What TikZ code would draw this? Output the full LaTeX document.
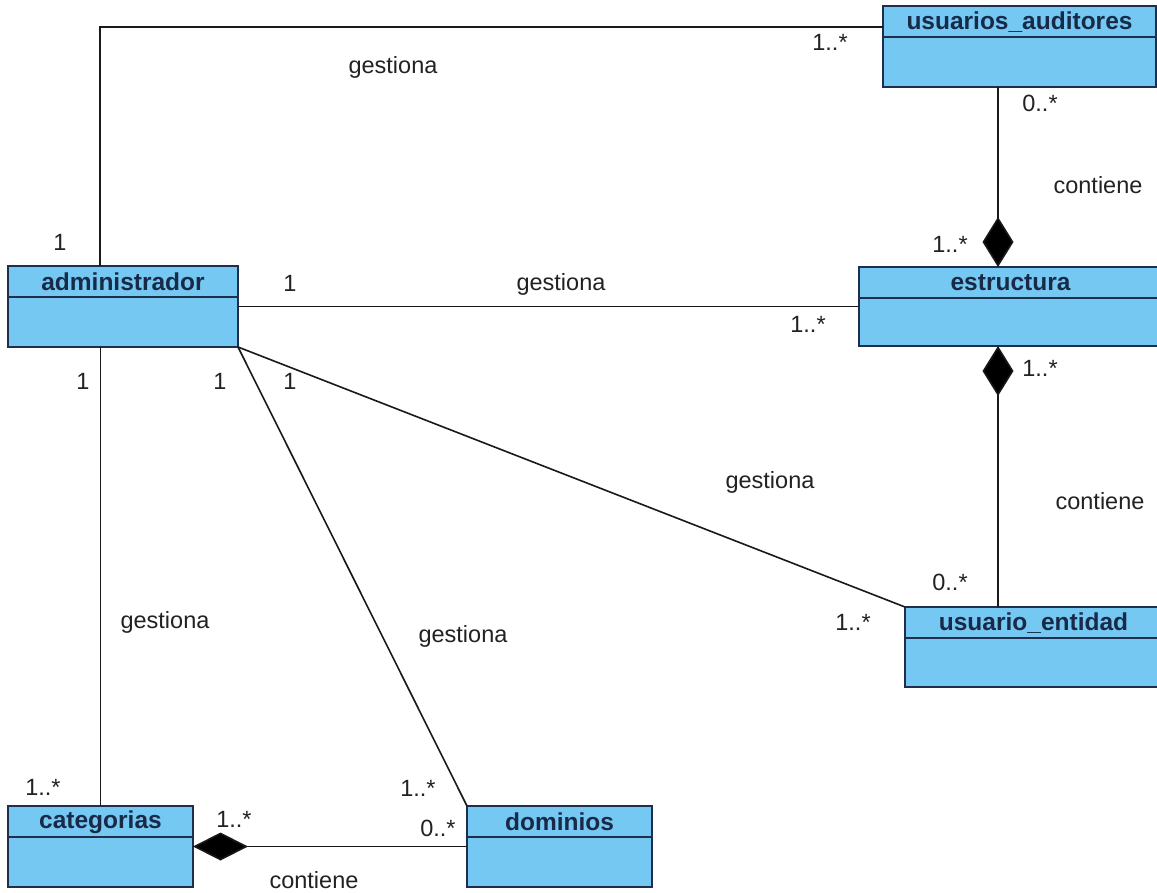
\documentclass[tikz,border=0pt]{standalone}
\usepackage{fontspec}
\setmainfont{Liberation Sans}
\usetikzlibrary{arrows.meta}

\definecolor{classfill}{RGB}{116,200,242}
\definecolor{classedge}{RGB}{30,46,76}
\definecolor{classtext}{RGB}{24,42,72}
\definecolor{labeltext}{RGB}{34,34,34}

\tikzset{
  classbox/.style={draw=classedge, fill=classfill, line width=2pt,
    rectangle, inner sep=0pt, outer sep=0pt, anchor=north west},
  classrule/.style={draw=classedge, line width=2pt},
  classtitle/.style={font=\fontsize{24.5}{27}\selectfont\bfseries, text=classtext, inner sep=0pt},
  assoc/.style={draw=black!90, line width=1.6pt},
  comp/.style={assoc, {Diamond[length=50pt,width=31pt,fill=black]}-},
  lbl/.style={font=\fontsize{23.5}{26}\selectfont, text=labeltext, inner sep=0pt},
}

% class box: name, x1, y1, x2, y2, title
\newcommand\umlclass[6]{%
  \node[classbox, minimum width={(#4-#2)*1pt}, minimum height={(#5-#3)*1pt}] (#1) at (#2,#3) {};
  \draw[classrule] ([yshift=-31pt]#1.north west) -- ([yshift=-31pt]#1.north east);
  \node[classtitle] (#1-title) at ([yshift=-16pt]#1.north) {#6};
}

\begin{document}
\begin{tikzpicture}[x=1pt, y=-1pt]
\useasboundingbox (0,0) rectangle (1157,892);
\fill[white] (0,0) rectangle (1157,892);

% classes
\umlclass{ua}{883}{6}{1156}{87}{usuarios\_auditores}
\umlclass{admin}{8}{266}{238}{347}{administrador}
\umlclass{estr}{859}{267}{1162}{346}{estructura}
\umlclass{ue}{905}{607}{1162}{687}{usuario\_entidad}
\umlclass{cat}{8}{806}{193}{887}{categorias}
\umlclass{dom}{467}{806}{652}{887}{dominios}

% attachment points off the box centres
\coordinate (admintop) at ([xshift=92pt]admin.north west);
\coordinate (estrtop) at ([xshift=139pt]estr.north west);
\coordinate (estrbot) at ([xshift=139pt]estr.south west);

% associations
\draw[assoc] (admintop) |- ([yshift=-21pt]ua.north west);
\draw[assoc] (admin.east) -- (estr.west);
\draw[assoc] (admin.south east) -- (ue.north west);
\draw[assoc] (admin.south east) -- (dom.north west);
\draw[assoc] (cat.north |- admin.south) -- (cat.north);

% compositions
\draw[comp] (estrtop) -- (estrtop |- ua.south);
\draw[comp] (estrbot) -- (estrbot |- ue.north);
\draw[assoc, {Diamond[length=55pt,width=28pt,fill=black]}-] (cat.east) -- (dom.west);

% multiplicities and role names
\node[lbl] (l1) at (393,67) {gestiona};
\node[lbl] (l2) at (830,42) {1..*};
\node[lbl] (l3) at (60,242) {1};
\node[lbl] (l4) at (1040,103) {0..*};
\node[lbl] (l5) at (1098,185) {contiene};
\node[lbl] (l6) at (950,244) {1..*};
\node[lbl] (l7) at (290,283) {1};
\node[lbl] (l8) at (561,284) {gestiona};
\node[lbl] (l9) at (808,324) {1..*};
\node[lbl] (l10) at (1040,368) {1..*};
\node[lbl] (l11) at (1100,501) {contiene};
\node[lbl] (l12) at (950,582) {0..*};
\node[lbl] (l13) at (83,381) {1};
\node[lbl] (l14) at (220,381) {1};
\node[lbl] (l15) at (290,381) {1};
\node[lbl] (l16) at (770,482) {gestiona};
\node[lbl] (l17) at (165,622) {gestiona};
\node[lbl] (l18) at (463,636) {gestiona};
\node[lbl] (l19) at (853,622) {1..*};
\node[lbl] (l20) at (43,787) {1..*};
\node[lbl] (l21) at (418,788) {1..*};
\node[lbl] (l22) at (234,819) {1..*};
\node[lbl] (l23) at (438,828) {0..*};
\node[lbl] (l24) at (314,880) {contiene};
\end{tikzpicture}
\end{document}
